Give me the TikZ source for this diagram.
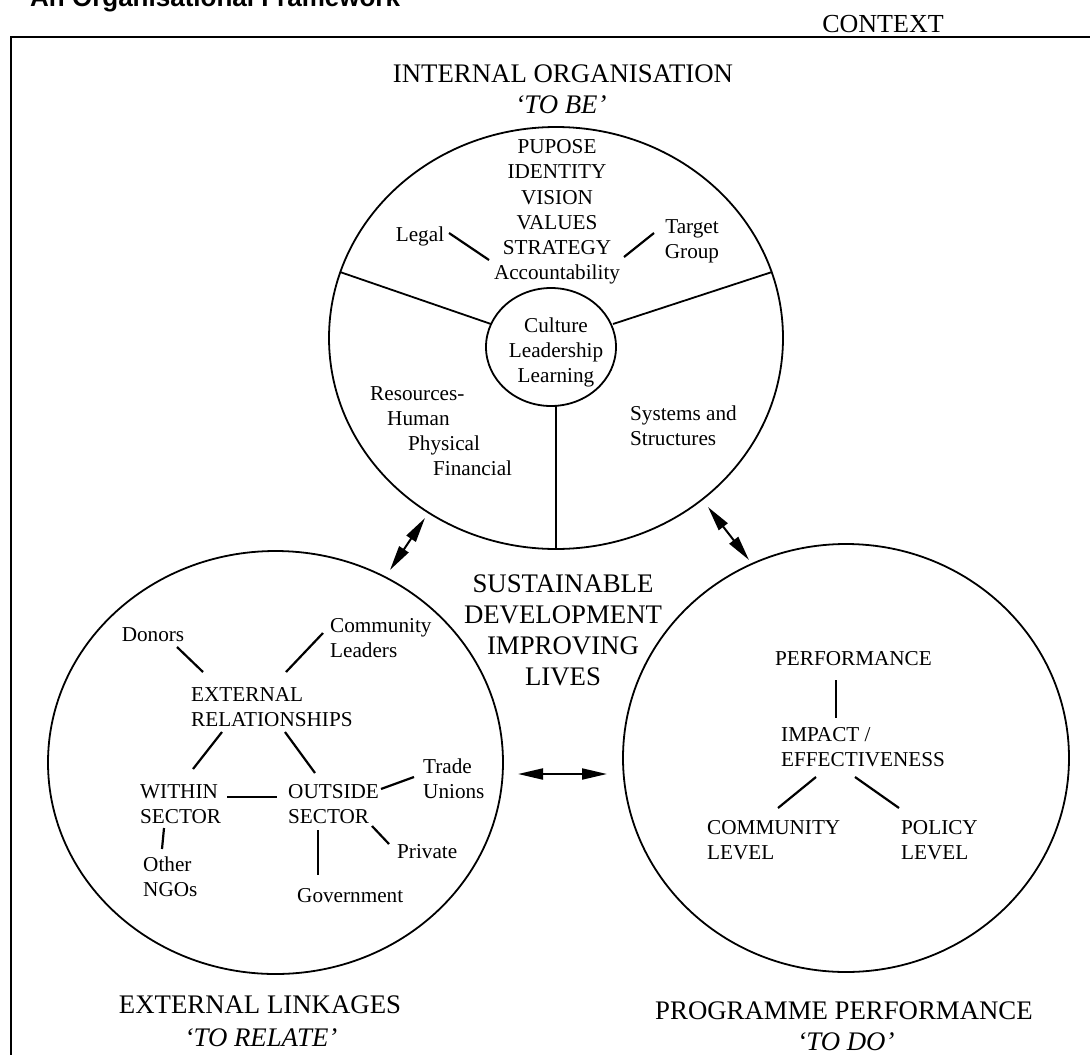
\documentclass[tikz,border=0pt]{standalone}
\usepackage{fontspec}
\setmainfont{Liberation Serif}
\newfontfamily\titlefont{Liberation Sans}
\usetikzlibrary{arrows.meta,shapes.geometric}
\begin{document}
\begin{tikzpicture}[x=1pt,y=-1pt,
  small/.style={font=\fontsize{21.2}{25}\selectfont, inner sep=0pt, anchor=base},
  smallL/.style={small, anchor=base west},
  big/.style={font=\fontsize{26.8}{31}\selectfont, inner sep=0pt, anchor=base},
  bigit/.style={big, font=\fontsize{26.8}{31}\selectfont\itshape},
  ring/.style={draw, ellipse, line width=1.8pt, inner sep=0pt},
  link/.style={line width=2.2pt},
  divider/.style={line width=1.8pt},
  twoway/.style={line width=2pt, {Triangle[length=25pt,width=11pt]}-{Triangle[length=25pt,width=11pt]}},
  frameline/.style={line width=2.6pt}]
\useasboundingbox (0,0) rectangle (1090,1055);

% title (partly cut off at the top) and frame
\node[font=\titlefont\fontsize{26}{30}\selectfont\bfseries, anchor=base west, inner sep=0pt] (title) at (30,6) {An Organisational Framework};
\coordinate (fbl) at (11,1060);
\coordinate (ftl) at (11,37);
\coordinate (ftr) at (1095,37);
\draw[frameline] (fbl) -- (ftl) -- (ftr);
\node[font=\fontsize{26}{31}\selectfont, inner sep=0pt, anchor=base] (context) at (883,32) {CONTEXT};

% ---------------- top circle ----------------
\node[ring, minimum width=454pt, minimum height=422pt] (org) at (556,338) {};
\node[ring, minimum width=130pt, minimum height=118pt] (core) at (551,347) {};
\node[big] (orgT1) at (563,82) {INTERNAL ORGANISATION};
\node[bigit] (orgT2) at (561,113) {`TO BE'};

\coordinate (dl1) at (340,272); \coordinate (dl2) at (491,324);
\coordinate (dr1) at (772,272); \coordinate (dr2) at (613,324);
\coordinate (dv1) at (556,406); \coordinate (dv2) at (556,549);
\draw[divider] (dl1) -- (dl2);
\draw[divider] (dr1) -- (dr2);
\draw[divider] (dv1) -- (dv2);

\node[small] (p1) at (557,153) {PUPOSE};
\node[small] (p2) at (557,178) {IDENTITY};
\node[small] (p3) at (557,204) {VISION};
\node[small] (p4) at (557,229) {VALUES};
\node[small] (p5) at (557,254) {STRATEGY};
\node[small] (p6) at (557,279) {Accountability};
\node[small] (legal) at (420,241) {Legal};
\node[small] (tg1) at (692,233) {Target};
\node[small] (tg2) at (692,258) {Group};
\coordinate (lg1) at (449,233); \coordinate (lg2) at (489,260);
\coordinate (tl1) at (654,233); \coordinate (tl2) at (624,257);
\draw[link] (lg1) -- (lg2);
\draw[link] (tl1) -- (tl2);

\node[small] (c1) at (556,332) {Culture};
\node[small] (c2) at (556,357) {Leadership};
\node[small] (c3) at (556,382) {Learning};

\node[smallL] (r1) at (370,400) {Resources-};
\node[smallL] (r2) at (387,425) {Human};
\node[smallL] (r3) at (408,450) {Physical};
\node[smallL] (r4) at (433,475) {Financial};
\node[smallL] (s1) at (630,420) {Systems and};
\node[smallL] (s2) at (630,445) {Structures};

% centre text
\node[big] (sd1) at (563,592) {SUSTAINABLE};
\node[big] (sd2) at (563,623) {DEVELOPMENT};
\node[big] (sd3) at (563,654) {IMPROVING};
\node[big] (sd4) at (563,685) {LIVES};

% ---------------- bottom-left circle ----------------
\node[ring, minimum width=455pt, minimum height=423pt] (ext) at (275.5,762.5) {};
\node[big] (extT1) at (260,1013) {EXTERNAL LINKAGES};
\node[bigit] (extT2) at (261,1046) {`TO RELATE'};

\node[small] (donors) at (153,641) {Donors};
\node[smallL] (cl1) at (330,632) {Community};
\node[smallL] (cl2) at (330,657) {Leaders};
\node[smallL] (er1) at (191,701) {EXTERNAL};
\node[smallL] (er2) at (191,726) {RELATIONSHIPS};
\node[smallL] (ws1) at (140,798) {WITHIN};
\node[smallL] (ws2) at (140,823) {SECTOR};
\node[smallL] (os1) at (288,798) {OUTSIDE};
\node[smallL] (os2) at (288,823) {SECTOR};
\node[smallL] (tu1) at (423,773) {Trade};
\node[smallL] (tu2) at (423,798) {Unions};
\node[smallL] (priv) at (397,858) {Private};
\node[smallL] (gov) at (297,902) {Government};
\node[smallL] (ng1) at (143,871) {Other};
\node[smallL] (ng2) at (143,896) {NGOs};

\coordinate (a1) at (177,647); \coordinate (a2) at (203,672);
\coordinate (b1) at (323,633); \coordinate (b2) at (286,672);
\coordinate (e1) at (222,732); \coordinate (e2) at (193,769);
\coordinate (f1) at (285,732); \coordinate (f2) at (315,773);
\coordinate (w1) at (227,797); \coordinate (w2) at (277,797);
\coordinate (t1) at (381,789); \coordinate (t2) at (414,777);
\coordinate (v1) at (372,826); \coordinate (v2) at (389,844);
\coordinate (g1) at (318,830); \coordinate (g2) at (318,875);
\coordinate (o1) at (164,828); \coordinate (o2) at (162,849);
\draw[link] (a1) -- (a2);
\draw[link] (b1) -- (b2);
\draw[link] (e1) -- (e2);
\draw[link] (f1) -- (f2);
\draw[link] (w1) -- (w2);
\draw[link] (t1) -- (t2);
\draw[link] (v1) -- (v2);
\draw[link] (g1) -- (g2);
\draw[link] (o1) -- (o2);

% ---------------- bottom-right circle ----------------
\node[ring, minimum width=446pt, minimum height=428pt] (prog) at (846,758) {};
\node[big] (progT1) at (844,1019) {PROGRAMME PERFORMANCE};
\node[bigit] (progT2) at (846,1050) {`TO DO'};

\node[small] (perf) at (853.5,665) {PERFORMANCE};
\node[smallL] (im1) at (781,741) {IMPACT /};
\node[smallL] (im2) at (781,766) {EFFECTIVENESS};
\node[smallL] (cm1) at (707,834) {COMMUNITY};
\node[smallL] (cm2) at (707,859) {LEVEL};
\node[smallL] (pl1) at (901,834) {POLICY};
\node[smallL] (pl2) at (901,859) {LEVEL};
\coordinate (q1) at (836,680); \coordinate (q2) at (836,718);
\coordinate (m1) at (816,777); \coordinate (m2) at (778,808);
\coordinate (n1) at (855,777); \coordinate (n2) at (899,808);
\draw[link] (q1) -- (q2);
\draw[link] (m1) -- (m2);
\draw[link] (n1) -- (n2);

% ---------------- two-way arrows ----------------
\coordinate (ar1a) at (425,518); \coordinate (ar1b) at (390,570);
\coordinate (ar2a) at (708,507); \coordinate (ar2b) at (749,560);
\coordinate (ar3a) at (518,774); \coordinate (ar3b) at (607,774);
\draw[twoway] (ar1a) -- (ar1b);
\draw[twoway] (ar2a) -- (ar2b);
\draw[twoway] (ar3a) -- (ar3b);
\end{tikzpicture}
\end{document}
